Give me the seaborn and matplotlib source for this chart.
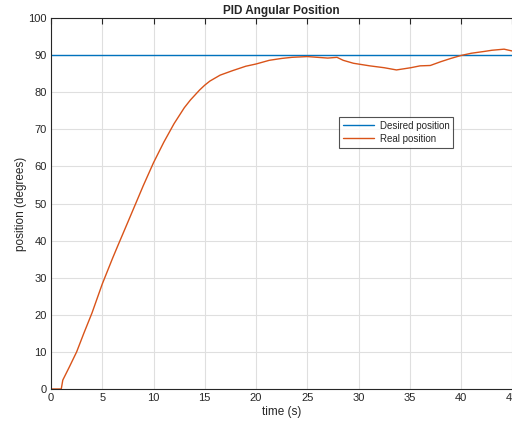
import matplotlib
matplotlib.use("Agg")
import matplotlib.pyplot as plt
import pandas as pd
import seaborn as sns

# values
time_s = [0, 1, 1.15, 1.8, 2.5, 3.2, 4, 5, 6, 6.5, 7.5, 9, 10, 11, 12, 13, 13.6,
          14.5, 15, 15.5, 16.5, 17.7, 19, 20, 21.3, 22.5, 23.5, 25, 26, 27,
          27.9, 28.5, 29.5, 31.1, 32.5, 33.7, 35.1, 36, 37, 37.3, 38, 39, 40,
          41, 42.3, 43, 44.2, 45]
real_pos = [0, 0, 2.4, 6, 10, 15, 20.5, 28.3, 35.2, 38.5, 45, 54.8, 61, 66.5,
            71.5, 75.8, 77.9, 80.6, 81.9, 83, 84.6, 85.8, 87, 87.6, 88.6, 89.1,
            89.4, 89.6, 89.4, 89.2, 89.4, 88.6, 87.8, 87.1, 86.6, 86.0, 86.6,
            87.1, 87.2, 87.5, 88.2, 89.1, 89.9, 90.5, 91.0, 91.3, 91.6, 91.1]
desired_time = [0, 45]
desired_pos = [90, 90]

real_df = pd.DataFrame({'time': time_s, 'pos': real_pos})
desired_df = pd.DataFrame({'time': desired_time, 'pos': desired_pos})

sns.set_style("white")
plt.rcParams['font.family'] = ['Liberation Sans', 'DejaVu Sans']

fig = plt.figure(figsize=(5.12, 4.25), dpi=100)
ax = fig.add_axes([51 / 512, 36 / 425, 461.3 / 512, 371 / 425])

sns.lineplot(data=desired_df, x='time', y='pos', color='#0072BD', lw=1.0,
             label='Desired position', ax=ax)
sns.lineplot(data=real_df, x='time', y='pos', color='#D95319', lw=1.0,
             label='Real position', ax=ax)

ax.set_xlim(0, 45)
ax.set_ylim(0, 100)
ax.set_xticks(range(0, 46, 5))
ax.set_yticks(range(0, 101, 10))
ax.grid(True, color='#dfdfdf', lw=0.8)
ax.set_axisbelow(True)

for side in ['left', 'bottom', 'top']:
    ax.spines[side].set_color('#262626')
    ax.spines[side].set_linewidth(0.8)
ax.spines['right'].set_visible(False)
ax.tick_params(direction='in', length=4, width=0.8, top=True, right=False,
               labelsize=8, colors='#262626', pad=3)

ax.set_xlabel('time (s)', fontsize=8.5, color='#262626', labelpad=2)
ax.set_ylabel('position (degrees)', fontsize=8.5, color='#262626', labelpad=1)
ax.set_title('PID Angular Position', fontsize=8.5, fontweight='bold', pad=3)

leg = ax.legend(loc='upper left', bbox_to_anchor=((339 - 51) / 461.3, (389 - 117) / 371),
                borderaxespad=0, fontsize=7, frameon=True, fancybox=False,
                edgecolor='#262626', handlelength=3.2, handletextpad=0.6,
                borderpad=0.4, labelspacing=0.3)
leg.get_frame().set_linewidth(0.8)

fig.savefig('out.png', dpi=100)
